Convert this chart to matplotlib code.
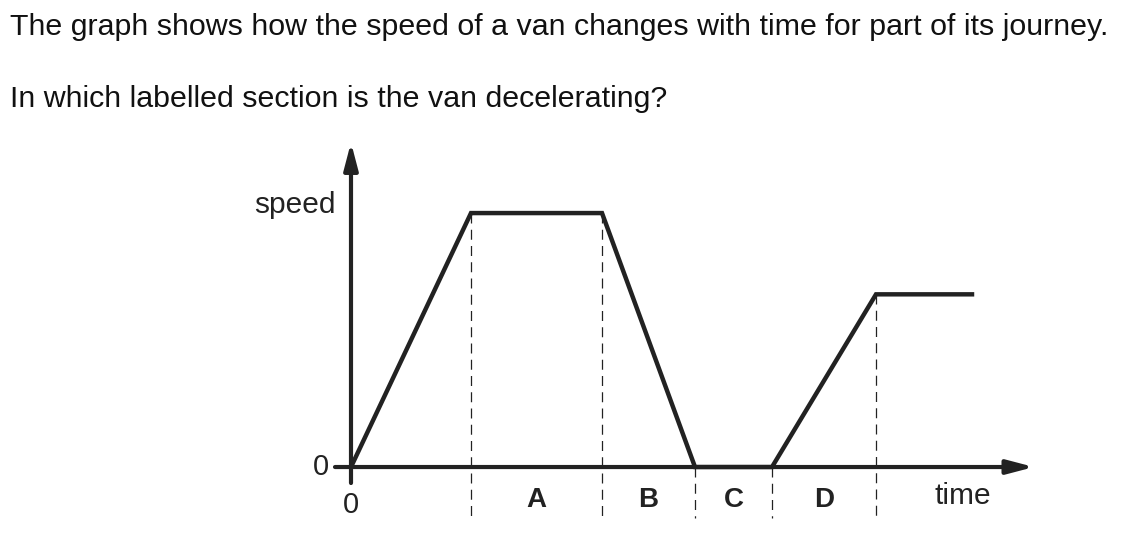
import matplotlib.pyplot as plt

plt.rcParams['font.family'] = ['Liberation Sans', 'DejaVu Sans']

# speed-time graph (arbitrary units)
time = [0, 12.0, 25.1, 34.4, 42.1, 52.5, 62.1]
speed = [0, 10, 10, 0, 0, 6.8, 6.8]

# section boundaries and labels
bounds = [12.0, 25.1, 34.4, 42.1, 52.5]
bound_speed = [10, 10, 0, 0, 6.8]
sections = ['A', 'B', 'C', 'D']

fig = plt.figure(figsize=(11.28, 5.35), dpi=100)
fig.text(10 / 1128, 1 - 27 / 535, 'The graph shows how the speed of a van changes with time for part of its journey.',
         fontsize=21.9, va='center', ha='left', color='#111111')
fig.text(10 / 1128, 1 - 99 / 535, 'In which labelled section is the van decelerating?',
         fontsize=21.9, va='center', ha='left', color='#111111')

ax = fig.add_axes([0, 0, 1, 1])
ax.set_xlim(-35.1, 77.7)
ax.set_ylim(-2.677, 18.39)
ax.axis('off')

col = '#222222'
# axes with arrows
ax.annotate('', xy=(68.3, 0), xytext=(-1.6, 0),
            arrowprops=dict(arrowstyle='-|>,head_length=1.6,head_width=0.42', lw=3, color=col,
                            shrinkA=0, shrinkB=0))
ax.annotate('', xy=(0, 12.78), xytext=(0, -0.63),
            arrowprops=dict(arrowstyle='-|>,head_length=1.6,head_width=0.42', lw=3, color=col,
                            shrinkA=0, shrinkB=0))

# dashed section boundaries
for b, s in zip(bounds, bound_speed):
    ax.plot([b, b], [s, -2.0], ls=(0, (8, 5)), lw=0.9, color=col)

ax.plot(time, speed, lw=3.2, color=col, solid_joinstyle='miter', zorder=3)

# section labels
for i, lab in enumerate(sections):
    ax.text((bounds[i] + bounds[i + 1]) / 2, -1.3, lab, ha='center', va='center',
            fontsize=20, fontweight='bold', color=col)

ax.text(-2.2, 0, '0', ha='right', va='center', fontsize=21, color=col)
ax.text(0, -1.5, '0', ha='center', va='center', fontsize=21, color=col)
ax.text(-1.5, 10.3, 'speed', ha='right', va='center', fontsize=21.5, color=col)
ax.text(61.2, -1.15, 'time', ha='center', va='center', fontsize=21.5, color=col)

plt.savefig('out.png', dpi=100)
